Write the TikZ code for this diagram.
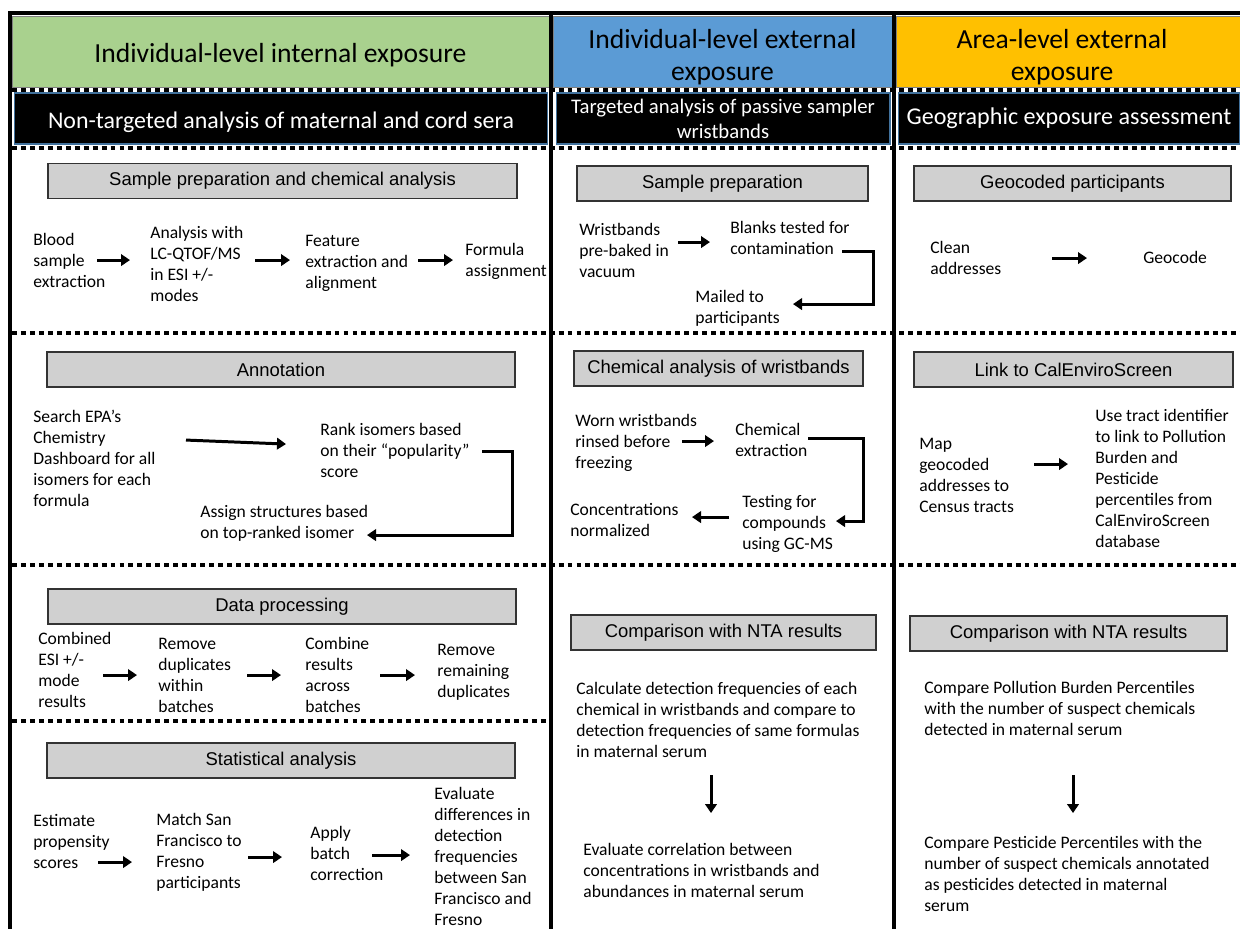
\documentclass[tikz,border=0pt]{standalone}
\usepackage{fontspec}
\setmainfont{Carlito}
\newfontfamily\arialfont{Liberation Sans}
\usetikzlibrary{arrows.meta,calc,positioning}
\definecolor{hdrgreen}{HTML}{A9D18E}
\definecolor{hdrblue}{HTML}{5B9BD5}
\definecolor{hdrgold}{HTML}{FFC000}
\definecolor{boxgray}{HTML}{D0D0D0}
\definecolor{bandedge}{HTML}{41719C}
% strut for the first line of a step text
\newcommand\fstrut{\rule{0pt}{8.8pt}}
\tikzset{
  rule/.style  = {line width=2.8pt},
  sep/.style   = {line width=2.3pt, dash pattern=on 2.8pt off 2.3pt},
  hdr/.style   = {draw=black!50, line width=0.4pt, inner sep=0pt, align=center,
                  minimum height=1.42cm, font=\fontsize{15.7}{18.7}\selectfont},
  band/.style  = {fill=black, draw=bandedge, line width=0.6pt, text=white,
                  inner sep=0pt, align=center, minimum height=1.02cm},
  stage/.style = {draw=black!80, line width=0.7pt, fill=boxgray, inner sep=0pt,
                  minimum height=0.7cm, font=\arialfont\fontsize{10.5}{12}\selectfont},
  % north is 15px above the given point
  txt/.style   = {anchor=north west, yshift=8.5pt, inner sep=0pt, align=left,
                  font=\fontsize{10}{11.9}\selectfont},
  flow/.style  = {-{Triangle[length=1.8mm,width=2.3mm]}, line width=1.7pt},
}
\begin{document}
\begin{tikzpicture}[x=0.02cm,y=-0.02cm]
  \useasboundingbox (0,0) rectangle (1240,929);
  % column headers
  \node[hdr, fill=hdrgreen, minimum width=10.74cm] (internal) at (280.5,51.5)
      {\rule{0pt}{15.2pt}Individual-level internal exposure};
  \node[hdr, fill=hdrblue, minimum width=6.78cm] (personal) at (722.5,51.5)
      {\rule{0pt}{17.4pt}Individual-level external\\exposure};
  \node[hdr, fill=hdrgold, minimum width=6.88cm] (area) at (1068,51.5)
      {\rule{0pt}{17.4pt}Area-level external\hspace*{6.8pt}\\exposure\hspace*{6.8pt}};
  \node[band, minimum width=10.68cm, font=\fontsize{13.6}{16}\selectfont] (nta) at (281,118.5)
      {\rule{0pt}{14.2pt}Non-targeted analysis of maternal and cord sera};
  \node[band, minimum width=6.68cm, font=\fontsize{11.8}{14.2}\selectfont] (wbands) at (723,118.5)
      {Targeted analysis of passive sampler\\wristbands};
  \node[band, minimum width=6.84cm, font=\fontsize{13.7}{16}\selectfont] (geoband) at (1069,118.5)
      {Geographic exposure assessment};
  % dotted separators and column rules
  \foreach \y in {90,148,333,565}
    \draw[sep] (12,\y) -- (1240,\y);
  \draw[sep] (12,721) -- (549,721);
  \draw[rule] (8,13) -- (1240,13);
  \foreach \x in {10,551,894}
    \draw[rule] (\x,13) -- (\x,929);

  % internal exposure column
  \node[stage, minimum width=9.38cm] (prep) at (282.5,181) {Sample preparation and chemical analysis};
  \node[txt] (blood) at (33,245) {\fstrut Blood\\sample\\extraction};
  \node[txt] (lcms) at (150,238) {\fstrut Analysis with\\LC-QTOF/MS\\in ESI +/-\\modes};
  \node[txt] (feat) at (305,246) {\fstrut Feature\\extraction and\\alignment};
  \node[txt] (formula) at (465,255) {\fstrut Formula\\assignment};
  \draw[flow] ($(blood.north west)+(64,30)$) -- ($(lcms.north west)+(-20,37)$);
  \draw[flow] ($(lcms.north west)+(105,37)$) -- ($(feat.north west)+(-15,29)$);
  \draw[flow] ($(feat.north west)+(113,29)$) -- ($(formula.north west)+(-12,20)$);

  \node[stage, minimum width=9.36cm] (annot) at (281,369.5) {Annotation};
  \node[txt] (search) at (33,422) {\fstrut Search EPA’s\\Chemistry\\Dashboard for all\\isomers for each\\formula};
  \node[txt] (rank) at (320,435) {\fstrut Rank isomers based\\on their “popularity”\\score};
  \node[txt] (assign) at (200,517) {\fstrut Assign structures based\\on top-ranked isomer};
  \draw[flow] ($(search.north west)+(153,33)$) -- ($(rank.north west)+(-34,24)$);
  \draw[flow] ($(rank.north west)+(162,31)$) -- ++(30,0) |- ($(assign.north west)+(167,33)$);

  \node[stage, minimum width=9.36cm] (proc) at (282,606.5) {Data processing};
  \node[txt] (comb) at (38,644) {\fstrut Combined\\ESI +/-\\mode\\results};
  \node[txt] (remdup) at (158,649) {\fstrut Remove\\duplicates\\within\\batches};
  \node[txt] (combres) at (305,649) {\fstrut Combine\\results\\across\\batches};
  \node[txt] (remrem) at (437,655) {\fstrut Remove\\remaining\\duplicates};
  \draw[flow] ($(comb.north west)+(65,46)$) -- ($(remdup.north west)+(-21,41)$);
  \draw[flow] ($(remdup.north west)+(89,41)$) -- ($(combres.north west)+(-24,41)$);
  \draw[flow] ($(combres.north west)+(75,41)$) -- ($(remrem.north west)+(-22,35)$);

  \node[stage, minimum width=9.36cm] (stats) at (281,760.5) {Statistical analysis};
  \node[txt] (est) at (33,826) {\fstrut Estimate\\propensity\\scores};
  \node[txt] (match) at (156,825) {\fstrut Match San\\Francisco to\\Fresno\\participants};
  \node[txt] (batch) at (310,838) {\fstrut Apply\\batch\\correction};
  \node[txt] (evald) at (434,799) {\fstrut Evaluate\\differences in\\detection\\frequencies\\between San\\Francisco and\\Fresno};
  \draw[flow] ($(est.north west)+(65,51)$) -- ($(match.north west)+(-24,52)$);
  \draw[flow] ($(match.north west)+(92,47)$) -- ($(batch.north west)+(-28,34)$);
  \draw[flow] ($(batch.north west)+(62,32)$) -- ($(evald.north west)+(-24,71)$);

  % wristband column
  \node[stage, minimum width=5.82cm] (prep2) at (722.5,183.5) {Sample preparation};
  \node[txt] (wrist) at (579,235) {\fstrut Wristbands\\pre-baked in\\vacuum};
  \node[txt] (blanks) at (730,233) {\fstrut Blanks tested for\\contamination};
  \node[txt] (mailed) at (695,302) {\fstrut Mailed to\\participants};
  \draw[flow] ($(wrist.north west)+(99,22)$) -- ($(blanks.north west)+(-20,24)$);
  \draw[flow] ($(blanks.north west)+(112,33)$) -- ++(31,0) |- ($(mailed.north west)+(98,17)$);

  \node[stage, minimum width=5.78cm] (chem) at (718.5,368.5) {Chemical analysis of wristbands};
  \node[txt] (worn) at (575,426) {\fstrut Worn wristbands\\rinsed before\\freezing};
  \node[txt] (chemx) at (735,435) {\fstrut Chemical\\extraction};
  \node[txt] (testing) at (742,507) {\fstrut Testing for\\compounds\\using GC-MS};
  \node[txt] (conc) at (570,515) {\fstrut Concentrations\\normalized};
  \draw[flow] ($(worn.north west)+(107,30)$) -- ($(chemx.north west)+(-21,21)$);
  \draw[flow] ($(chemx.north west)+(73,18)$) -- ++(55,0) |- ($(testing.north west)+(94,29)$);
  \draw[flow] ($(testing.north west)+(-13,25)$) -- ($(conc.north west)+(122,17)$);

  \node[stage, minimum width=6.1cm] (cmpwb) at (723.5,632.5) {Comparison with NTA results};
  \node[txt] (calcdf) at (576,694) {\fstrut Calculate detection frequencies of each\\chemical in wristbands and compare to\\detection frequencies of same formulas\\in maternal serum};
  \node[txt] (evalcor) at (583,855) {\fstrut Evaluate correlation between\\concentrations in wristbands and\\abundances in maternal serum};
  \draw[flow] ($(calcdf.north west)+(135,96)$) -- ($(evalcor.north west)+(128,-27)$);

  % area-level column
  \node[stage, minimum width=6.34cm] (geocoded) at (1072.5,183.5) {Geocoded participants};
  \node[txt] (clean) at (930,253) {\fstrut Clean\\addresses};
  \node[txt] (geocode) at (1143,263) {\fstrut Geocode};
  \draw[flow] ($(clean.north west)+(122,20)$) -- ($(geocode.north west)+(-56,10)$);

  \node[stage, minimum width=6.38cm] (ces) at (1073.5,369.5) {Link to CalEnviroScreen};
  \node[txt] (mapct) at (919,449) {\fstrut Map\\geocoded\\addresses to\\Census tracts};
  \node[txt] (tract) at (1095,421) {\fstrut Use tract identifier\\to link to Pollution\\Burden and\\Pesticide\\percentiles from\\CalEnviroScreen\\database};
  \draw[flow] ($(mapct.north west)+(115,30)$) -- ($(tract.north west)+(-27,58)$);

  \node[stage, minimum width=6.34cm] (cmpgeo) at (1068.5,633.5) {Comparison with NTA results};
  \node[txt] (cmppol) at (924,693) {\fstrut Compare Pollution Burden Percentiles\\with the number of suspect chemicals\\detected in maternal serum};
  \node[txt] (cmppest) at (924,848) {\fstrut Compare Pesticide Percentiles with the\\number of suspect chemicals annotated\\as pesticides detected in maternal\\serum};
  \draw[flow] ($(cmppol.north west)+(149,97)$) -- ($(cmppest.north west)+(149,-20)$);
\end{tikzpicture}
\end{document}
